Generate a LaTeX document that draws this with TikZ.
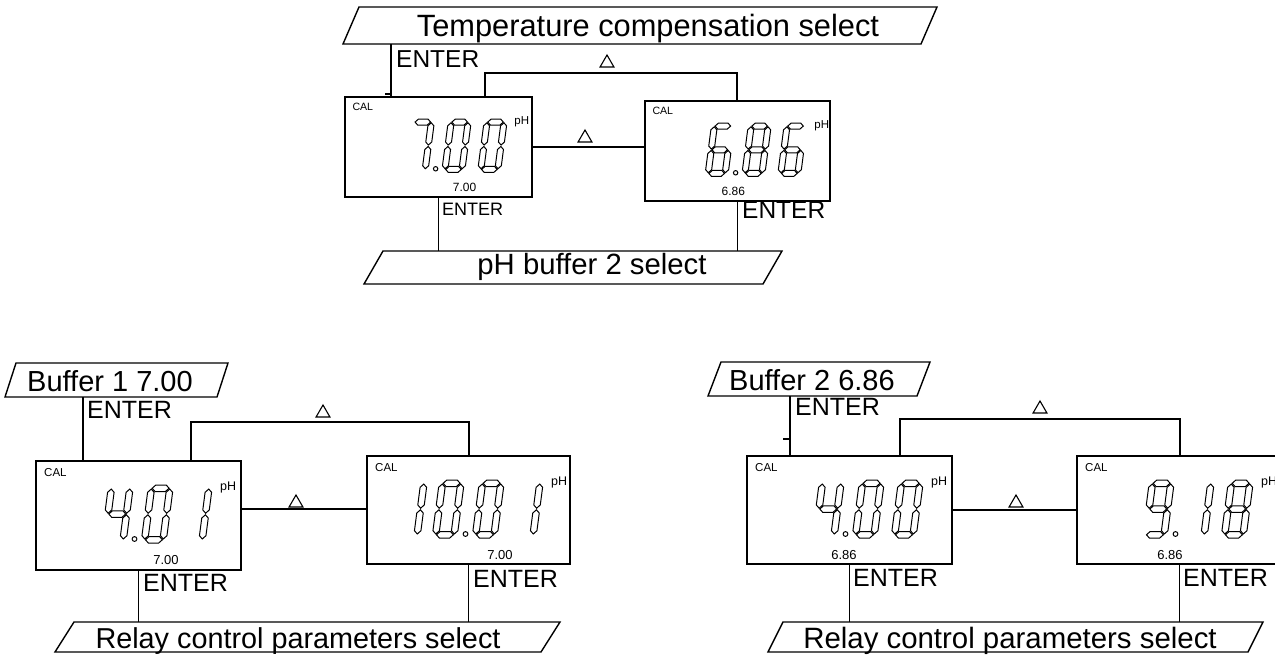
\documentclass[tikz,border=0pt]{standalone}
\usepackage{fontspec}
\setmainfont{Liberation Sans}
\usetikzlibrary{shapes.geometric}
% seven-segment pieces (local digit coords, y up, bottom-left origin)
\newcommand\hseg[1]{\draw[seg] (4.05,#1) -- (7.3,#1+3.25) -- (17.7,#1+3.25) -- (20.95,#1) -- (17.7,#1-3.25) -- (7.3,#1-3.25) -- cycle;}
\newcommand\vseg[2]{\draw[seg] (#1,#2) -- (#1+3.25,#2+3.25) -- (#1+3.25,#2+20.9) -- (#1,#2+24.15) -- (#1-3.25,#2+20.9) -- (#1-3.25,#2+3.25) -- cycle;}
\newcommand\lsegA{\hseg{54.75}}
\newcommand\lsegG{\hseg{29}}
\newcommand\lsegD{\hseg{3.25}}
\newcommand\lsegB{\vseg{21.75}{29.8}}
\newcommand\lsegC{\vseg{21.75}{4.05}}
\newcommand\lsegE{\vseg{3.25}{4.05}}
\newcommand\lsegF{\vseg{3.25}{29.8}}
\newcommand\lcdZero{\lsegA\lsegB\lsegC\lsegD\lsegE\lsegF}
\newcommand\lcdOne{\lsegB\lsegC}
\newcommand\lcdFour{\lsegB\lsegC\lsegF\lsegG}
\newcommand\lcdSix{\lsegA\lsegC\lsegD\lsegE\lsegF\lsegG}
\newcommand\lcdSeven{\lsegA\lsegB\lsegC}
\newcommand\lcdEight{\lsegA\lsegB\lsegC\lsegD\lsegE\lsegF\lsegG}
\newcommand\lcdNine{\lsegA\lsegB\lsegC\lsegD\lsegF\lsegG}
\newcommand\lcddig[2]{\begin{scope}[shift={(#1,-82)},xslant=0.13]#2\end{scope}}
% display contents: #1 box, #2 scale, #3 digits, #4 small number, #5 its centre
\newcommand\lcdpanel[5]{%
\begin{scope}[shift={(#1.north west)},scale=#2]
  \node[caltxt] (#1cal) at (8,-15) {CAL};
  \node[phtxt] (#1ph) at (184,-29.5) {pH};
  \node[numtxt] (#1num) at (#5,-103) {#4};
  #3
  \draw[seg] (98.5,-78) circle (2.4);
\end{scope}}
\newcommand\paradraw[2]{\draw[paraline] ([xshift=#2pt]#1.north west) -- (#1.north east) -- ([xshift=-#2pt]#1.south east) -- (#1.south west) -- cycle;}

\begin{document}
\begin{tikzpicture}[x=1pt,y=1pt,
  conn/.style={line width=1.3pt},
  boxst/.style={draw, line width=1.4pt, rectangle, inner sep=0pt, outer sep=0pt},
  parast/.style={rectangle, inner sep=0pt, outer sep=0pt},
  paraline/.style={line width=1.4pt, line join=miter},
  tri/.style={draw, regular polygon, regular polygon sides=3, minimum size=16pt, inner sep=0pt, line width=1.1pt},
  seg/.style={line width=1pt},
  bigtxt/.style={inner sep=0pt, anchor=base},
  entertxt/.style={font=\fontsize{24.5}{29}\selectfont, inner sep=0pt, anchor=base west},
  caltxt/.style={font=\fontsize{11.5}{13}\selectfont, inner sep=0pt, anchor=base west, transform shape},
  phtxt/.style={font=\fontsize{12.5}{14}\selectfont, inner sep=0pt, anchor=base west, transform shape},
  numtxt/.style={font=\fontsize{13}{15}\selectfont, inner sep=0pt, anchor=base, transform shape},
]
\useasboundingbox (0,0) rectangle (1275,-654);

% ================= TOP =================
\node[parast, minimum width=594pt, minimum height=37pt] (p1) at (640,-25.5) {};
\paradraw{p1}{16}
\node[bigtxt, font=\fontsize{30.8}{36}\selectfont] (t1) at (648,-36) {Temperature compensation select};

\node[boxst, minimum width=187pt, minimum height=100pt] (b1) at (438.5,-147) {};
\node[boxst, minimum width=185pt, minimum height=100pt] (b2) at (737.5,-151) {};
\lcdpanel{b1}{0.92}{\lcddig{65}{\lcdSeven}\lcddig{105}{\lcdZero}\lcddig{144}{\lcdZero}}{7.00}{130}
\lcdpanel{b2}{0.92}{\lcddig{65}{\lcdSix}\lcddig{105}{\lcdEight}\lcddig{144}{\lcdSix}}{6.86}{96}

\coordinate (c0) at (391,0);
\draw[conn] (p1.south -| c0) -- (b1.north -| c0);
\coordinate (tk0) at (391,-94);
\draw[conn] (tk0) -- ++(-6,0);
\node[entertxt] (e0) at (396,-67) {ENTER};

\coordinate (u1a) at (485,-73);
\coordinate (u1b) at (737,-73);
\draw[conn] (b1.north -| u1a) -- (u1a) -- (u1b) -- (b2.north -| u1b);
\node[tri] (tr1) at (607,-63) {};
\draw[conn] (b1.east) -- (b1.east -| b2.west);
\node[tri] (tr2) at (585,-138) {};

\node[parast, minimum width=418pt, minimum height=33pt] (p2) at (573,-267.5) {};
\paradraw{p2}{19}
\node[bigtxt, font=\fontsize{29.3}{35}\selectfont] (t2) at (592,-274) {pH buffer 2 select};
\draw[conn] (b1.south) -- (b1.south |- p2.north);
\draw[conn] (b2.south) -- (b2.south |- p2.north);
\node[entertxt, font=\fontsize{18}{21}\selectfont] (e1) at (442,-215) {ENTER};
\node[entertxt] (e2) at (742,-218) {ENTER};

% ================= BOTTOM LEFT =================
\node[parast, minimum width=223pt, minimum height=34pt] (p3) at (116.5,-380) {};
\paradraw{p3}{11}
\node[bigtxt, font=\fontsize{29}{35}\selectfont] (t3) at (110,-391) {Buffer 1 7.00};

\node[boxst, minimum width=205pt, minimum height=109pt] (b3) at (138.5,-515.5) {};
\node[boxst, minimum width=203pt, minimum height=108pt] (b4) at (468.5,-510) {};
\lcdpanel{b3}{1}{\lcddig{65}{\lcdFour}\lcddig{105}{\lcdZero}\lcddig{144}{\lcdOne}}{7.00}{130}
\lcdpanel{b4}{1}{\lcddig{28}{\lcdOne}\lcddig{65}{\lcdZero}\lcddig{105}{\lcdZero}\lcddig{144}{\lcdOne}}{7.00}{133}

\coordinate (c3) at (83,0);
\draw[conn] (p3.south -| c3) -- (b3.north -| c3);
\node[entertxt, font=\fontsize{25}{30}\selectfont] (e3) at (87,-418) {ENTER};

\coordinate (u3a) at (191,-422);
\coordinate (u3b) at (469,-422);
\draw[conn] (b3.north -| u3a) -- (u3a) -- (u3b) -- (b4.north -| u3b);
\node[tri] (tr3) at (323,-413) {};
\coordinate (m3) at (0,-509);
\draw[conn] (b3.east |- m3) -- (b4.west |- m3);
\node[tri] (tr4) at (296,-503) {};

\node[parast, minimum width=505pt, minimum height=30pt] (p4) at (307.5,-637) {};
\paradraw{p4}{19}
\node[bigtxt, font=\fontsize{28.8}{34}\selectfont] (t4) at (298,-648) {Relay control parameters select};
\draw[conn] (b3.south) -- (b3.south |- p4.north);
\draw[conn] (b4.south) -- (b4.south |- p4.north);
\node[entertxt, font=\fontsize{25}{30}\selectfont] (e4) at (143,-591) {ENTER};
\node[entertxt, font=\fontsize{25}{30}\selectfont] (e5) at (473,-587) {ENTER};

% ================= BOTTOM RIGHT =================
\node[parast, minimum width=222pt, minimum height=34pt] (p5) at (819,-379) {};
\paradraw{p5}{13}
\node[bigtxt, font=\fontsize{29}{35}\selectfont] (t5) at (812,-390) {Buffer 2 6.86};

\node[boxst, minimum width=205pt, minimum height=108pt] (b5) at (849.5,-510) {};
\node[boxst, minimum width=205pt, minimum height=108pt] (b6) at (1179.5,-510) {};
\lcdpanel{b5}{1}{\lcddig{65}{\lcdFour}\lcddig{105}{\lcdZero}\lcddig{144}{\lcdZero}}{6.86}{97}
\lcdpanel{b6}{1}{\lcddig{65}{\lcdNine}\lcddig{105}{\lcdOne}\lcddig{144}{\lcdEight}}{6.86}{93}

\coordinate (c6) at (790,0);
\draw[conn] (p5.south -| c6) -- (b5.north -| c6);
\coordinate (tk6) at (790,-439);
\draw[conn] (tk6) -- ++(-7,0);
\node[entertxt, font=\fontsize{25}{30}\selectfont] (e6) at (795,-415) {ENTER};

\coordinate (u5a) at (900,-419);
\coordinate (u5b) at (1180,-419);
\draw[conn] (b5.north -| u5a) -- (u5a) -- (u5b) -- (b6.north -| u5b);
\node[tri] (tr5) at (1040,-409) {};
\draw[conn] (b5.east) -- (b5.east -| b6.west);
\node[tri] (tr6) at (1016,-503) {};

\node[parast, minimum width=495pt, minimum height=30pt] (p6) at (1015.5,-637) {};
\paradraw{p6}{15}
\node[bigtxt, font=\fontsize{29.4}{35}\selectfont] (t6) at (1010,-648) {Relay control parameters select};
\draw[conn] (b5.south) -- (b5.south |- p6.north);
\draw[conn] (b6.south) -- (b6.south |- p6.north);
\node[entertxt, font=\fontsize{25}{30}\selectfont] (e7) at (853,-586) {ENTER};
\node[entertxt, font=\fontsize{25}{30}\selectfont] (e8) at (1183,-586) {ENTER};
\end{tikzpicture}
\end{document}
